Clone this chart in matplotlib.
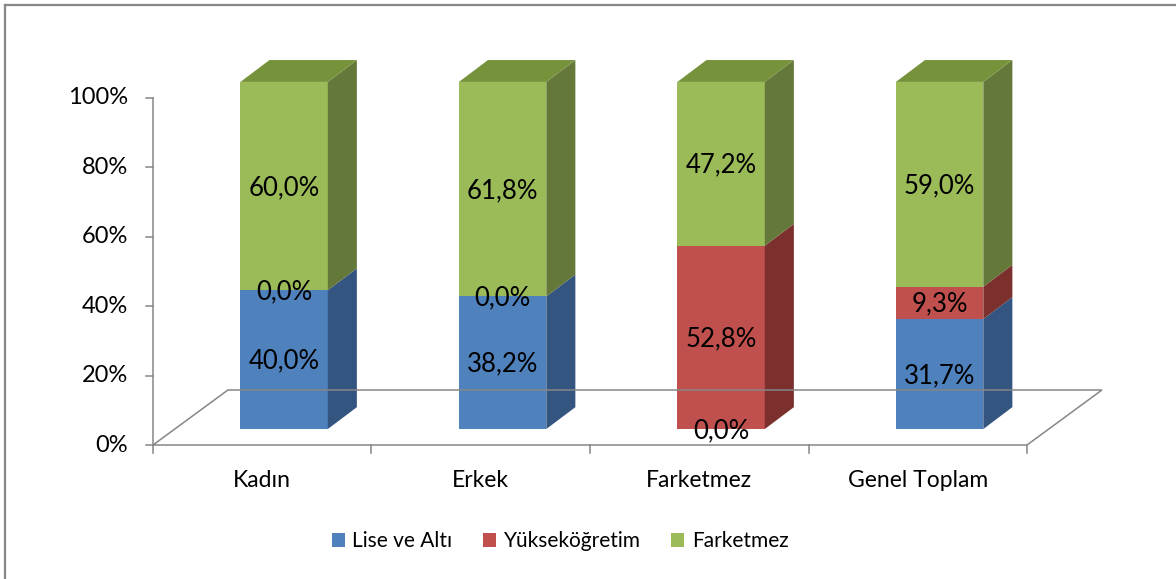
import numpy as np
import matplotlib.pyplot as plt
from matplotlib.patches import Polygon, Patch

plt.rcParams["font.family"] = ["Lato", "DejaVu Sans"]

# ---------------------------------------------------------------------------
# Data
# ---------------------------------------------------------------------------
categories = ["Kadın", "Erkek", "Farketmez", "Genel Toplam"]
series_names = ["Lise ve Altı", "Yükseköğretim", "Farketmez"]
lise = [40.0, 38.2, 0.0, 31.7]
yuksek = [0.0, 0.0, 52.8, 9.3]
fark = [60.0, 61.8, 47.2, 59.0]
y_ticks = [0, 20, 40, 60, 80, 100]

front_colors = ["#4F81BD", "#C0504D", "#9BBB59"]
side_colors = ["#33557F", "#7B302E", "#647839"]
top_colors = ["#3E6698", "#9A3E3C", "#76933C"]
axis_color = "#868686"

# 3D geometry in data units (x: category, y: percent)
floor_dx, floor_dy = 0.343, 15.85     # depth of the floor
bar_off_dx, bar_off_dy = 0.10, 4.6    # bar front face sits inside the floor
bar_dx, bar_dy = 0.133, 6.3           # bar depth
bar_w = 0.40

fig = plt.figure(figsize=(11.76, 5.79), dpi=100)
ax = fig.add_axes([0, 0, 1, 1])
ax.set_xlim(-1.2002, 4.1819)
ax.set_ylim(-38.6, 128.2)
ax.axis("off")

# outer frame (only top and left edges are visible)
fig.add_artist(plt.Line2D([4.5 / 1176, 1], [1 - 4.5 / 579, 1 - 4.5 / 579], color=axis_color, lw=1.6))
fig.add_artist(plt.Line2D([4.5 / 1176, 4.5 / 1176], [0, 1 - 4.5 / 579], color=axis_color, lw=1.6))

n = len(categories)
x0, x1 = -0.5, n - 0.5

# floor outline
ax.plot([x0, x1, x1 + floor_dx, x0 + floor_dx, x0],
        [0, 0, floor_dy, floor_dy, 0], color=axis_color, lw=1.1, solid_joinstyle="miter")
# category ticks
for xb in np.arange(x0, x1 + 0.01, 1.0):
    ax.plot([xb, xb], [0, -2.2], color=axis_color, lw=1.1)
# value axis
ax.plot([x0, x0], [0, 100], color=axis_color, lw=1.1)
for t in y_ticks:
    ax.plot([x0 - 0.032, x0], [t, t], color=axis_color, lw=1.1)
    ax.text(x0 - 0.115, t, f"{t}%", ha="right", va="center", fontsize=17)

for i, cat in enumerate(categories):
    ax.text(i, -10.2, cat, ha="center", va="center", fontsize=16.5)

# bars
stack = np.array([lise, yuksek, fark])
for i in range(n):
    left = i - bar_w / 2 + bar_off_dx
    right = left + bar_w
    base = bar_off_dy
    bottom = 0.0
    top_idx = max(k for k in range(3) if stack[k, i] > 0)
    for k in range(3):
        v = stack[k, i]
        y_lo = base + bottom
        y_hi = y_lo + v
        if v > 0:
            ax.add_patch(Polygon([(left, y_lo), (right, y_lo), (right, y_hi), (left, y_hi)],
                                 closed=True, fc=front_colors[k], ec="none"))
            ax.add_patch(Polygon([(right, y_lo), (right + bar_dx, y_lo + bar_dy),
                                  (right + bar_dx, y_hi + bar_dy), (right, y_hi)],
                                 closed=True, fc=side_colors[k], ec="none"))
            if k == top_idx:
                ax.add_patch(Polygon([(left, y_hi), (right, y_hi),
                                      (right + bar_dx, y_hi + bar_dy), (left + bar_dx, y_hi + bar_dy)],
                                     closed=True, fc=top_colors[k], ec="none"))
        bottom += v
    # labels on top of the shapes
    bottom = 0.0
    for k in range(3):
        v = stack[k, i]
        yc = base + bottom + v / 2
        ax.text((left + right) / 2, yc - 0.4, f"{v:.1f}%".replace(".", ","),
                ha="center", va="center", fontsize=18.5, zorder=5)
        bottom += v

handles = [Patch(fc=c, ec="none") for c in front_colors]
fig.legend(handles, series_names, loc="center", bbox_to_anchor=(560 / 1176, 1 - 541 / 579),
           ncol=3, frameon=False, fontsize=15, handlelength=0.65, handleheight=0.65,
           handletextpad=0.35, columnspacing=1.45)

fig.savefig("out.png", dpi=100)
